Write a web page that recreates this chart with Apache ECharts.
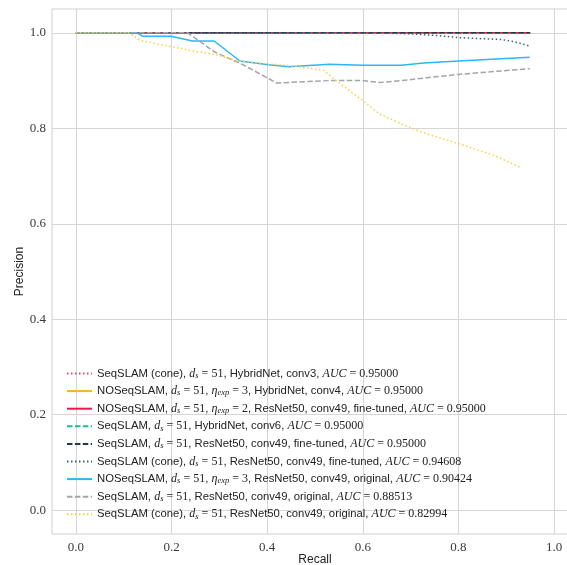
<!DOCTYPE html>
<html lang="en">
<head>
<meta charset="UTF-8">
<title>PR curves</title>
<script src="https://cdn.jsdelivr.net/npm/echarts@6/dist/echarts.min.js"></script>
<style>
  html, body { margin: 0; padding: 0; background: #fff; }
  #chart { width: 567px; height: 565px; }
</style>
</head>
<body>
<div id="chart"></div>
<script>
// legend labels (rich text marks the math parts)
const labels = [
  'SeqSLAM (cone), {m|d}{s|s}{r| = 51}, HybridNet, conv3, {m|AUC}{r| = 0.95000}',
  'NOSeqSLAM, {m|d}{s|s}{r| = 51}, {m|η}{s|exp}{r| = 3}, HybridNet, conv4, {m|AUC}{r| = 0.95000}',
  'NOSeqSLAM, {m|d}{s|s}{r| = 51}, {m|η}{s|exp}{r| = 2}, ResNet50, conv49, fine-tuned, {m|AUC}{r| = 0.95000}',
  'SeqSLAM, {m|d}{s|s}{r| = 51}, HybridNet, conv6, {m|AUC}{r| = 0.95000}',
  'SeqSLAM, {m|d}{s|s}{r| = 51}, ResNet50, conv49, fine-tuned, {m|AUC}{r| = 0.95000}',
  'SeqSLAM (cone), {m|d}{s|s}{r| = 51}, ResNet50, conv49, fine-tuned, {m|AUC}{r| = 0.94608}',
  'NOSeqSLAM, {m|d}{s|s}{r| = 51}, {m|η}{s|exp}{r| = 3}, ResNet50, conv49, original, {m|AUC}{r| = 0.90424}',
  'SeqSLAM, {m|d}{s|s}{r| = 51}, ResNet50, conv49, original, {m|AUC}{r| = 0.88513}',
  'SeqSLAM (cone), {m|d}{s|s}{r| = 51}, ResNet50, conv49, original, {m|AUC}{r| = 0.82994}'
];
const colors = ['#f4406c', '#ffb319', '#f2154c', '#22b89c', '#23394a', '#3f5d7c', '#2db5f5', '#a2a6aa', '#ffd03c'];
const dashes = ['dotted', 'solid', 'solid', 'dashed', 'dashed', 'dotted', 'solid', 'dashed', 'dotted'];

// recall / precision values per curve
const flatRecall = [0, 0.95];
const flatPrecision = [1, 1];

const coneFtRecall = [0, 0.62, 0.70, 0.76, 0.80, 0.845, 0.89, 0.915, 0.947];
const coneFtPrecision = [1, 1, 0.998, 0.994, 0.990, 0.988, 0.986, 0.982, 0.973];

const noSeqOrigRecall = [0, 0.128, 0.139, 0.199, 0.244, 0.289, 0.343, 0.403, 0.445, 0.53, 0.60, 0.681, 0.727, 0.80, 0.949];
const noSeqOrigPrecision = [1, 1, 0.993, 0.993, 0.983, 0.983, 0.941, 0.933, 0.929, 0.934, 0.932, 0.932, 0.937, 0.941, 0.949];

const seqOrigRecall = [0, 0.234, 0.29, 0.346, 0.42, 0.53, 0.60, 0.635, 0.68, 0.80, 0.949];
const seqOrigPrecision = [1, 1, 0.96, 0.935, 0.895, 0.90, 0.90, 0.896, 0.90, 0.913, 0.925];

const coneOrigRecall = [0, 0.11, 0.135, 0.19, 0.24, 0.29, 0.339, 0.403, 0.459, 0.519, 0.544, 0.60, 0.635, 0.681, 0.734, 0.80, 0.875, 0.932];
const coneOrigPrecision = [1, 1, 0.984, 0.973, 0.963, 0.955, 0.941, 0.935, 0.93, 0.921, 0.90, 0.858, 0.83, 0.809, 0.788, 0.768, 0.743, 0.717];

const curves = [
  [flatRecall, flatPrecision],
  [flatRecall, flatPrecision],
  [flatRecall, flatPrecision],
  [flatRecall, flatPrecision],
  [flatRecall, flatPrecision],
  [coneFtRecall, coneFtPrecision],
  [noSeqOrigRecall, noSeqOrigPrecision],
  [seqOrigRecall, seqOrigPrecision],
  [coneOrigRecall, coneOrigPrecision]
];

const tickValues = [0, 0.2, 0.4, 0.6, 0.8, 1.0];

const chart = echarts.init(document.getElementById('chart'));

function dashOf(kind) {
  if (kind === 'dotted') return [1.5, 2.5];
  if (kind === 'dashed') return [5.5, 2.4];
  return 'solid';
}

const series = labels.map((name, i) => ({
  name: name,
  type: 'line',
  symbol: 'none',
  silent: true,
  z: 2 + i,
  data: curves[i][0].map((r, k) => [r, curves[i][1][k]]),
  lineStyle: { color: colors[i], width: 1.5, type: dashOf(dashes[i]), cap: 'butt' },
  itemStyle: { color: colors[i] }
}));

const axisCommon = {
  type: 'value',
  min: -0.05,
  max: 1.05,
  nameMoveOverlap: false,
  axisLine: { show: false },
  axisTick: { show: false, customValues: tickValues },
  splitLine: { show: true, lineStyle: { color: '#d6d6d6', width: 1 } },
  axisLabel: {
    customValues: tickValues,
    formatter: v => v.toFixed(1),
    fontFamily: 'Liberation Serif',
    fontSize: 13,
    color: '#3a3a3a'
  },
  nameTextStyle: { fontFamily: 'Liberation Sans', fontSize: 12, color: '#222' }
};

chart.setOption({
  animation: false,
  grid: {
    left: 52, top: 9, right: -11, bottom: 31,
    outerBoundsMode: 'none',
    containLabel: false,
    show: true, borderColor: '#cfcfcf', borderWidth: 1, backgroundColor: '#fff'
  },
  xAxis: Object.assign({}, axisCommon, {
    name: 'Recall', nameLocation: 'middle', nameGap: 20,
    axisLabel: Object.assign({}, axisCommon.axisLabel, { margin: 7 })
  }),
  yAxis: Object.assign({}, axisCommon, {
    name: 'Precision', nameLocation: 'middle', nameGap: 26,
    axisLabel: Object.assign({}, axisCommon.axisLabel, { margin: 6 })
  }),
  legend: {
    orient: 'vertical',
    left: 61,
    top: 362,
    itemWidth: 25,
    itemHeight: 12,
    itemGap: 4.6,
    selectedMode: false,
    itemStyle: { opacity: 0, borderWidth: 0 },
    textStyle: {
      fontFamily: 'Liberation Sans',
      fontSize: 11.3,
      lineHeight: 12,
      color: '#222',
      rich: {
        m: { fontFamily: 'Liberation Serif', fontStyle: 'italic', fontSize: 12, lineHeight: 12, color: '#222' },
        s: { fontFamily: 'Liberation Serif', fontStyle: 'italic', fontSize: 8.5, lineHeight: 8, color: '#222', padding: [4, 0, 0, 0] },
        r: { fontFamily: 'Liberation Serif', fontSize: 12, lineHeight: 12, color: '#222' }
      }
    },
    data: labels
  },
  series: series
});
</script>
</body>
</html>
